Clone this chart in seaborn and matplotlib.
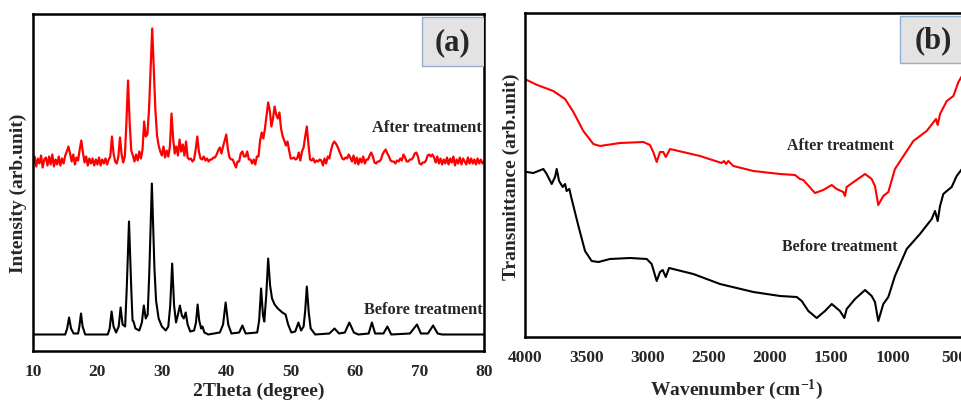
import numpy as np
import pandas as pd
import seaborn as sns
from matplotlib import pyplot as plt
from matplotlib.patches import Rectangle
from matplotlib.ticker import MultipleLocator

# ---- (a) XRD, intensity in arbitrary units ----
xrd_before_x = [10, 15.0, 15.3, 15.6, 15.9, 16.3, 17.0, 17.2, 17.45, 17.7, 18.1, 21.6, 21.9, 22.2,
                22.5, 22.9, 23.3, 23.6, 23.9, 24.3, 24.55, 24.9, 25.25, 25.45, 25.6, 25.9, 26.5, 26.9,
                27.2, 27.5, 27.8, 28.05, 28.45, 28.85, 29.1, 29.5, 30.0, 30.6, 31.0, 31.3, 31.6, 31.9,
                32.2, 32.5, 32.8, 33.1, 33.4, 33.7, 34.0, 34.4, 35.0, 35.3, 35.55, 35.8, 36.1, 36.3,
                36.6, 37.2, 39.0, 39.5, 39.9, 40.3, 40.8, 42.0, 42.5, 43.0, 44.8, 45.1, 45.4, 45.7,
                45.9, 46.2, 46.5, 46.8, 47.1, 47.5, 48.0, 48.7, 49.2, 49.6, 50.1, 50.7, 51.2, 51.6,
                52.0, 52.25, 52.5, 52.8, 53.1, 53.8, 56.0, 56.8, 57.5, 58.4, 59.1, 59.8, 60.5, 62.1,
                62.6, 63.1, 64.4, 65.0, 65.6, 68.5, 69.6, 70.2, 71.3, 72.1, 72.8, 73.5, 80]
xrd_before_y = [16, 16, 22, 33, 22, 17, 17, 24, 37, 24, 16, 16, 22, 39,
                24, 18, 24, 43, 26, 24, 62, 129, 62, 30, 29, 22, 20, 28,
                45, 32, 36, 78, 167, 82, 50, 32, 24, 20, 24, 45, 87, 45,
                28, 36, 45, 35, 32, 38, 26, 19, 20, 28, 46, 30, 22, 24,
                18, 16, 18, 26, 48, 26, 17, 18, 25, 17, 18, 30, 62, 35,
                29, 55, 92, 65, 52, 46, 42, 38, 36, 26, 18, 19, 28, 20,
                24, 40, 64, 38, 22, 16, 17, 22, 17, 18, 28, 18, 16, 17,
                28, 17, 17, 24, 16, 17, 26, 17, 17, 25, 17, 16, 16]

# after treatment: read every 0.25 degree from 10 to 80
xrd_after_x = np.arange(10, 80.001, 0.25)
xrd_after_y = [
    185, 194, 184, 192, 187, 195, 183, 191, 193, 185, 194, 186, 196, 184, 191, 186,  # 10-13
    194, 185, 192, 187, 195, 199, 204, 197, 189, 196, 186, 193, 190, 201, 210, 198,  # 14-17
    188, 194, 185, 192, 187, 192, 185, 191, 186, 193, 185, 191, 187, 192, 186, 191,  # 18-21
    194, 214, 197, 189, 187, 194, 213, 196, 188, 194, 228, 270, 228, 200, 195, 189,  # 22-25
    196, 190, 199, 192, 201, 229, 214, 216, 240, 280, 322, 282, 240, 215, 205, 199,  # 26-29
    195, 204, 193, 200, 194, 204, 237, 212, 197, 204, 195, 211, 199, 206, 195, 209,  # 30-33
    193, 191, 192, 189, 191, 201, 214, 199, 192, 191, 194, 190, 192, 189, 191, 191,  # 34-37
    193, 193, 196, 200, 203, 197, 204, 210, 216, 201, 193, 191, 191, 187, 183, 189,  # 38-41
    189, 197, 199, 194, 194, 199, 191, 191, 187, 191, 186, 194, 194, 210, 218, 212,  # 42-45
    222, 235, 248, 240, 224, 232, 244, 236, 232, 238, 222, 214, 210, 205, 209, 200,  # 46-49
    192, 192, 193, 191, 192, 198, 190, 199, 203, 214, 224, 206, 191, 190, 192, 188,  # 50-53
    190, 189, 191, 190, 185, 192, 187, 194, 192, 200, 206, 209, 207, 204, 200, 196,  # 54-57
    192, 191, 193, 192, 196, 193, 189, 195, 187, 193, 186, 192, 188, 194, 187, 191,  # 58-61
    191, 195, 198, 194, 188, 187, 189, 189, 191, 196, 199, 201, 197, 194, 190, 189,  # 62-65
    189, 187, 190, 189, 192, 190, 196, 193, 189, 189, 191, 191, 193, 197, 198, 194,  # 66-69
    187, 186, 188, 188, 190, 195, 196, 194, 196, 193, 188, 194, 187, 192, 186, 191,  # 70-73
    187, 193, 186, 192, 188, 194, 185, 191, 187, 193, 186, 192, 189, 186, 193, 187,  # 74-77
    192, 187, 191, 186, 192, 187, 191, 187, 189]                                      # 78-80

# ---- (b) FTIR, transmittance in arbitrary units ----
ftir_after_x = [4000, 3986, 3900, 3769, 3673, 3605, 3524, 3442, 3388, 3224, 3034, 2980, 2953,
                2925, 2898, 2871, 2851, 2816, 2571, 2395, 2376, 2359, 2340, 2299, 2136, 1918,
                1796, 1755, 1728, 1633, 1565, 1496, 1456, 1402, 1388, 1374, 1306, 1224, 1170,
                1143, 1116, 1075, 1034, 980, 830, 721, 645, 631, 612, 557, 503, 462, 433, 400]
ftir_after_y = [258, 257, 252, 246, 238, 225, 206, 193, 191, 194, 195, 192, 185,
                175, 185, 185, 180, 188, 181, 174, 176, 173, 176, 171, 166, 163,
                162, 158, 157, 144, 147, 152, 148, 145, 141, 150, 156, 163, 158,
                151, 132, 141, 145, 168, 196, 206, 218, 212, 223, 236, 241, 255, 261, 266]

ftir_before_x = [4000, 3986, 3932, 3891, 3850, 3823, 3782, 3755, 3741, 3722, 3692, 3673, 3660,
                 3638, 3619, 3564, 3510, 3456, 3401, 3306, 3143, 3006, 2966, 2925, 2898, 2876,
                 2851, 2824, 2626, 2408, 2136, 1918, 1782, 1741, 1687, 1619, 1551, 1496, 1429,
                 1393, 1374, 1306, 1224, 1170, 1143, 1116, 1075, 1034, 980, 884, 776, 680, 653,
                 631, 612, 585, 557, 517, 476, 433, 400]
ftir_before_y = [166, 165, 164, 166, 168, 163, 153, 160, 168, 156, 150, 153, 146,
                 148, 138, 111, 86, 76, 75, 78, 79, 78, 73, 56, 65, 67,
                 60, 69, 63, 53, 45, 41, 40, 36, 26, 19, 26, 33, 26,
                 19, 28, 38, 47, 41, 35, 16, 33, 40, 61, 88, 103, 118, 126,
                 116, 131, 143, 146, 150, 161, 168, 172]

sns.set_style("white")
plt.rcParams['font.family'] = ['Liberation Serif', 'DejaVu Serif']
plt.rcParams['font.weight'] = 'bold'
plt.rcParams['mathtext.fontset'] = 'custom'
plt.rcParams['mathtext.rm'] = 'Liberation Serif:bold'
plt.rcParams['mathtext.default'] = 'rm'

W, H = 962, 402
fig = plt.figure(figsize=(W / 100, H / 100), dpi=100)
ax_a = fig.add_axes([33 / W, (H - 351.5) / H, 451 / W, 336.5 / H])
ax_b = fig.add_axes([525 / W, (H - 338) / H, 441 / W, 324 / H])

# (a) XRD
sns.lineplot(x=xrd_before_x, y=xrd_before_y, ax=ax_a, color='black', linewidth=1.5)
sns.lineplot(x=xrd_after_x, y=xrd_after_y, ax=ax_a, color='#ff0000', linewidth=1.6)
ax_a.set_xlim(10, 80)
ax_a.set_ylim(0, 336.5)
ax_a.xaxis.set_major_locator(MultipleLocator(10))
ax_a.xaxis.set_minor_locator(MultipleLocator(5))
ax_a.text(79.7, 223, 'After treatment', ha='right', va='center', fontsize=11.8, fontweight='bold')
ax_a.text(79.85, 41, 'Before treatment', ha='right', va='center', fontsize=11.8, fontweight='bold')
ax_a.set_xlabel('2Theta (degree)', fontsize=14, fontweight='bold')
ax_a.set_ylabel('Intensity (arb.unit)', fontsize=14, fontweight='bold')
ax_a.xaxis.set_label_coords(0.5, -0.093)
ax_a.yaxis.set_label_coords(-0.013, 0.471)

# (b) FTIR
sns.lineplot(x=ftir_before_x, y=ftir_before_y, ax=ax_b, color='black', linewidth=1.5)
sns.lineplot(x=ftir_after_x, y=ftir_after_y, ax=ax_b, color='#ff0000', linewidth=1.5)
ax_b.set_xlim(4000, 400)
ax_b.set_ylim(0, 324)
ax_b.xaxis.set_major_locator(MultipleLocator(500))
ax_b.xaxis.set_minor_locator(MultipleLocator(250))
ax_b.text(985, 192, 'After treatment', ha='right', va='center', fontsize=11.4, fontweight='bold')
ax_b.text(955, 91, 'Before treatment', ha='right', va='center', fontsize=11.4, fontweight='bold')
ax_b.set_xlabel('Wavenumber (cm$^{-1}$)', fontsize=14, fontweight='bold')
ax_b.set_ylabel('Transmittance (arb.unit)', fontsize=14, fontweight='bold')
ax_b.xaxis.set_label_coords(0.48, -0.122)
ax_b.yaxis.set_label_coords(-0.011, 0.497)

for ax, tag, x0 in [(ax_a, '(a)', 0.8625), (ax_b, '(b)', 0.85)]:
    ax.set_yticks([])
    ax.tick_params(axis='x', which='major', direction='out', length=5, width=1.3,
                   labelsize=12.5, pad=4)
    ax.tick_params(axis='x', which='minor', direction='out', length=4, width=1.3)
    for lab in ax.get_xticklabels():
        lab.set_fontweight('bold')
    for sp in ax.spines.values():
        sp.set_visible(True)
        sp.set_color('black')
        sp.set_linewidth(1.8)
    ax.add_patch(Rectangle((x0, 0.845), 1 - x0, 0.146, transform=ax.transAxes,
                           facecolor='#e3e3e3', edgecolor='#8fb0d0', linewidth=1.0, zorder=3))
    ax.text(x0 + (1 - x0) / 2, 0.918, tag, transform=ax.transAxes, ha='center', va='center',
            fontsize=22, fontweight='bold', zorder=4)
    ax.grid(False)

fig.savefig('out.png', dpi=100)
